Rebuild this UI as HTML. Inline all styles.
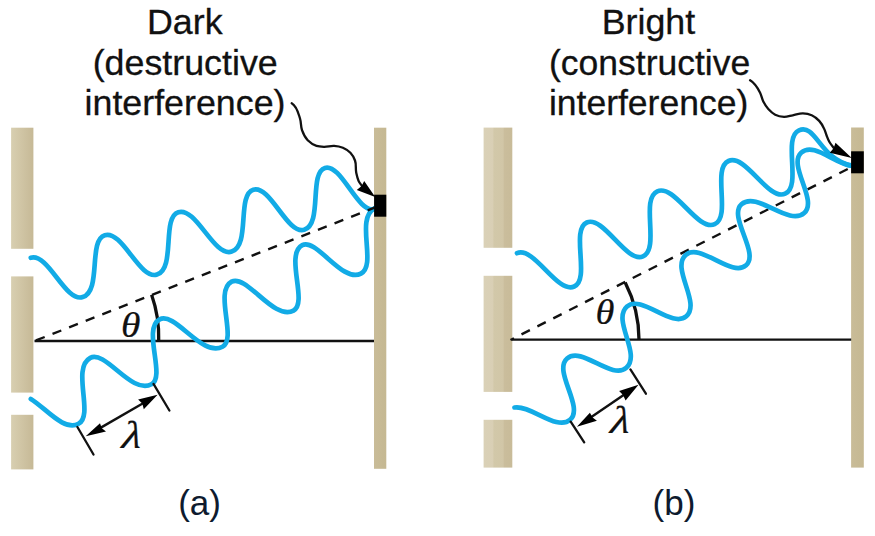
<!DOCTYPE html>
<html lang="en">
<head>
<meta charset="utf-8">
<title>Double-slit interference: dark and bright fringes</title>
<style>
html,body{margin:0;padding:0;background:#fff;}
body{width:875px;height:536px;overflow:hidden;}
svg{display:block;}
.lab{font-family:"Liberation Sans",Arial,Helvetica,sans-serif;font-size:35.8px;fill:#111;stroke:#111;stroke-width:0.3;}
.cap{font-family:"Liberation Sans",Arial,Helvetica,sans-serif;font-size:35px;fill:#0e1a2e;}
.sym{font-family:"Liberation Serif","Times New Roman",serif;font-style:italic;font-size:36px;fill:#111;stroke:#111;stroke-width:0.2;}
.wave{fill:none;stroke:#12abe6;stroke-width:4.7;stroke-linecap:round;stroke-linejoin:round;}
.ln{fill:none;stroke:#111;stroke-width:2.4;}
.arc{fill:none;stroke:#111;stroke-width:3.3;}
.tick{fill:none;stroke:#111;stroke-width:2.3;stroke-linecap:round;}
.dash{fill:none;stroke:#111;stroke-width:2.4;stroke-dasharray:9.4 8.42;}
.lead{fill:none;stroke:#111;stroke-width:2.3;stroke-linecap:round;}
.blk{fill:#000;}
</style>
</head>
<body>
<svg width="875" height="536" viewBox="0 0 875 536">
<defs>
<linearGradient id="ga" x1="0" y1="0" x2="1" y2="0">
<stop offset="0" stop-color="#d8cfb1"/><stop offset="0.45" stop-color="#d0c5a5"/><stop offset="1" stop-color="#c6b996"/>
</linearGradient>
<linearGradient id="gb" x1="0" y1="0" x2="1" y2="0">
<stop offset="0" stop-color="#dad1b7"/><stop offset="0.32" stop-color="#d9cfb5"/><stop offset="0.36" stop-color="#d2c8a9"/><stop offset="0.68" stop-color="#d1c6a7"/><stop offset="0.72" stop-color="#cabd9c"/><stop offset="1" stop-color="#c8bb99"/>
</linearGradient>
<linearGradient id="gs" x1="0" y1="0" x2="1" y2="0">
<stop offset="0" stop-color="#c9bc98"/><stop offset="1" stop-color="#c5b892"/>
</linearGradient>
</defs>
<rect width="875" height="536" fill="#fff"/>

<g id="panel-a">
<rect x="11.1" y="127.7" width="22.3" height="121.1" fill="url(#ga)"/>
<rect x="11.1" y="276.4" width="22.3" height="116.2" fill="url(#ga)"/>
<rect x="11.1" y="414.8" width="22.3" height="54.6" fill="url(#ga)"/>
<rect x="374" y="127.7" width="12.3" height="341.1" fill="url(#gs)"/>
<line class="ln" x1="34.5" y1="341" x2="374" y2="341"/>
<path class="arc" d="M151.6 294.8 A128 128 0 0 1 158.7 341"/>
<path class="wave" d="M30.8 257.8 C48.3 252.6 65.2 302.5 82.7 297.1 C101.9 291.2 87.9 240.3 104.8 235.2 C122.4 229.8 139.4 280.0 157.0 274.6 C175.8 268.8 161.6 217.3 178.3 212.2 C196.4 206.6 213.6 257.2 231.7 251.6 C250.6 245.8 236.6 194.8 253.3 189.7 C270.2 184.5 287.3 235.0 304.2 229.8 C322.8 224.1 308.7 172.9 325.0 167.9 C341.0 163.0 358.0 213.9 374.0 209.0"/>
<path class="wave" d="M30.8 398.9 C45.4 407.7 63.8 431.7 78.5 423.8 C94.4 415.4 71.1 368.1 90.3 357.9 C105.6 349.8 131.5 395.0 151.5 384.3 C166.0 376.7 142.1 328.7 159.6 319.4 C175.2 311.1 202.0 357.8 222.5 346.8 C237.4 339.0 213.7 291.2 231.6 281.7 C246.6 273.6 273.7 321.1 293.5 310.6 C308.3 302.7 284.5 254.6 302.3 245.2 C316.4 237.7 342.4 283.4 360.9 273.6 C377.4 264.8 354.8 218.7 374.7 208.1 L374.3 208.6"/>
<line class="dash" x1="35" y1="340.8" x2="374.5" y2="207.6" stroke-dashoffset="-1"/>
<rect class="blk" x="374.1" y="194.7" width="12.2" height="22"/>
<path class="lead" d="M291.7 103.2 C296.8 106.0 298.3 113.0 300.0 118.5 C301.2 122.2 300.7 126.5 302.0 130.2 C303.3 133.8 305.1 137.6 307.7 140.3 C310.1 142.7 313.3 144.9 316.5 145.9 C318.8 146.6 321.5 146.7 324.0 146.8 C327.4 146.9 330.8 145.7 334.1 145.9 C337.1 146.1 340.2 146.7 342.9 147.8 C345.6 149.0 348.4 150.7 350.4 152.8 C352.4 154.9 354.0 157.8 355.0 160.5 C356.4 164.2 355.4 168.6 356.2 172.6 C356.8 175.3 357.3 178.2 358.5 180.7 C359.5 182.8 361.0 184.6 362.3 186.6"/>
<path class="blk" d="M375.2 196.9 L356.8 189.9 L361.6 185.9 L364.2 181.0 Z"/>
<line class="tick" x1="77.4" y1="427" x2="93.5" y2="454.5"/>
<line class="tick" x1="153.5" y1="383.9" x2="169.4" y2="410.5"/>
<line class="ln" x1="100" y1="428.1" x2="143.5" y2="403"/>
<path class="blk" d="M85.7 436.3 L100.0 423.2 L101.8 428.3 L106.0 431.6 Z"/>
<path class="blk" d="M157.6 394.8 L138.1 399.6 L142.3 403.4 L143.8 409.2 Z"/>
<text class="sym" transform="translate(121.1 337.0) scale(1.1 1)">θ</text>
<text class="sym" transform="translate(121.0 447.8) scale(1.26 1.08) skewX(-6)">λ</text>
<text class="lab" text-anchor="middle" x="184.8" y="34.2">Dark</text>
<text class="lab" text-anchor="middle" x="185.2" y="74.9">(destructive</text>
<text class="lab" text-anchor="middle" x="185" y="114.9">interference)</text>
<text class="cap" text-anchor="middle" x="199.6" y="515">(a)</text>
</g>
<g id="panel-b">
<rect x="483.6" y="127.6" width="28.7" height="120.2" fill="url(#gb)"/>
<rect x="483.6" y="275.8" width="28.7" height="116.1" fill="url(#gb)"/>
<rect x="483.6" y="419.8" width="28.7" height="47.8" fill="url(#gb)"/>
<rect x="851.1" y="127.5" width="12.7" height="340.1" fill="url(#gs)"/>
<line class="ln" x1="512" y1="339.6" x2="851.2" y2="339.6"/>
<line class="dash" x1="510.5" y1="340" x2="851.3" y2="167.2" stroke-dashoffset="5.5"/>
<path class="arc" d="M625.2 282.4 A126.5 126.5 0 0 1 639 339.6"/>
<path class="wave" d="M517.0 253.2 C534.2 245.9 557.0 294.0 574.2 286.5 C590.6 279.3 570.4 229.7 586.8 222.5 C603.5 215.2 626.3 263.6 643.0 256.3 C660.2 248.7 640.1 198.8 657.3 191.3 C674.6 183.7 697.4 231.8 714.7 224.2 C731.4 216.9 711.8 168.3 728.5 161.0 C745.6 153.5 768.2 201.2 785.2 193.7 C802.0 186.4 782.3 137.6 799.0 130.3 C815.9 122.9 820.2 160.2 852.0 165.6"/>
<path class="wave" d="M514.5 407.5 C530.8 404.8 556.9 431.4 570.1 419.8 C584.5 407.2 552.7 371.1 567.1 358.5 C581.5 345.8 611.9 380.5 626.3 367.8 C641.7 354.3 611.6 320.0 627.0 306.5 C641.3 293.9 672.0 328.8 686.3 316.3 C701.3 303.1 670.7 268.2 685.7 255.0 C700.2 242.2 731.6 278.0 746.1 265.3 C759.9 253.1 727.7 216.4 741.5 204.2 C757.0 190.6 788.7 226.7 804.2 213.0 C818.4 200.6 787.2 164.9 801.4 152.5 C813.6 141.7 833.8 163.3 852.0 166.0"/>
<rect class="blk" x="851.1" y="151.3" width="12.7" height="22"/>
<path class="lead" d="M750.1 80.3 C754.7 83.0 757.7 88.0 760.1 92.7 C761.5 95.4 761.9 98.7 763.3 101.5 C764.7 104.2 766.3 106.8 768.3 109.0 C770.3 111.2 772.6 113.4 775.2 114.7 C777.8 116.0 781.0 116.7 784.0 116.8 C786.9 116.9 789.9 115.8 792.8 115.3 C796.2 114.7 799.5 113.3 802.9 113.4 C805.8 113.5 809.0 114.1 811.7 115.3 C814.5 116.6 817.1 118.6 819.2 120.9 C821.3 123.2 823.0 126.2 824.3 129.1 C825.2 131.1 825.8 133.4 826.6 135.5 C827.4 137.6 828.2 139.8 829.3 141.8 C830.6 144.1 832.4 146.1 834.0 148.2"/>
<path class="blk" d="M851.8 158.0 L829.8 152.8 L833.6 148.2 L835.5 142.8 Z"/>
<line class="tick" x1="570.7" y1="421.6" x2="584.2" y2="442.4"/>
<line class="tick" x1="630.4" y1="369.4" x2="645.9" y2="393.7"/>
<line class="ln" x1="591" y1="417.2" x2="624" y2="394.7"/>
<path class="blk" d="M576.9 426.8 L589.9 412.7 L592.6 417.4 L596.9 420.8 Z"/>
<path class="blk" d="M638.5 384.8 L619.1 391.1 L623.0 395.0 L625.6 400.6 Z"/>
<text class="sym" transform="translate(595.4 324.0) scale(1.07 1)">θ</text>
<text class="sym" transform="translate(609.6 432.9) scale(1.26 1.08) skewX(-6)">λ</text>
<text class="lab" text-anchor="middle" x="648.4" y="34.2">Bright</text>
<text class="lab" style="font-size:35.5px" text-anchor="middle" x="649.6" y="74.6">(constructive</text>
<text class="lab" style="font-size:35.5px" text-anchor="middle" x="648.6" y="114.8">interference)</text>
<text class="cap" text-anchor="middle" x="674" y="515">(b)</text>
</g>
</svg>
</body>
</html>
